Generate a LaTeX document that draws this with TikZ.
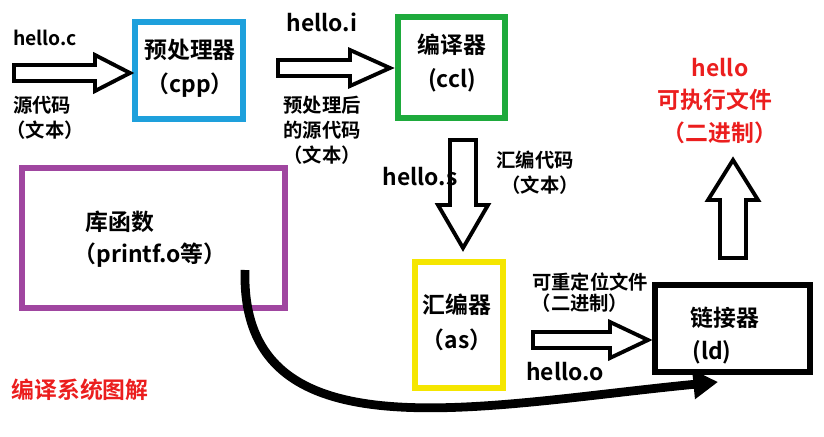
\documentclass[tikz,border=0pt]{standalone}
\usepackage{fontspec}
\setmainfont{Noto Sans CJK SC}[BoldFont={Noto Sans CJK SC Bold}]
\usetikzlibrary{arrows.meta}
\definecolor{cyanb}{RGB}{30,160,220}
\definecolor{greenb}{RGB}{30,170,60}
\definecolor{purpb}{RGB}{160,70,160}
\definecolor{yellb}{RGB}{245,230,0}
\definecolor{redt}{RGB}{235,30,30}
\tikzset{
 box/.style={draw, line width=3pt, inner sep=0pt},
 blk/.style={draw=black, line width=2.2pt, fill=white, line join=miter},
 lbl/.style={font=\bfseries\fontsize{11}{12}\selectfont, inner sep=0pt},
 big/.style={font=\bfseries\fontsize{13}{14}\selectfont, inner sep=0pt},
 red/.style={text=redt}
}
\begin{document}
\begin{tikzpicture}[x=0.02cm,y=-0.02cm]
\useasboundingbox (0,0) rectangle (824,436);
% boxes
\draw[box,draw=cyanb] (135,22) rectangle (243,119);
\draw[box,draw=greenb] (398,17) rectangle (505,118);
\draw[box,draw=purpb] (22,168) rectangle (285,308);
\draw[box,draw=yellb] (415,262) rectangle (503,388);
\draw[box,draw=black] (655,285) rectangle (810,372);
\node[big] (pp1) at (190,50) {预处理器};
\node[big] (pp2) at (190,85) {（cpp）};
\node[big] (cc1) at (452,45) {编译器};
\node[big] (cc2) at (452,80) {(ccl)};
\node[big] (lb1) at (120,222) {库函数};
\node[big] (lb2) at (150,255) {（printf.o等）};
\node[big] (as1) at (457,305) {汇编器};
\node[big] (as2) at (457,340) {（as）};
\node[big] (ld1) at (725,318) {链接器};
\node[big] (ld2) at (712,352) {(ld)};
% block arrows
\draw[blk] (14,65)--(95,65)--(95,55)--(130,73)--(95,91)--(95,81)--(14,81)--cycle;
\draw[blk] (278,60)--(350,60)--(350,50)--(390,68)--(350,86)--(350,76)--(278,76)--cycle;
\draw[blk] (450,140)--(450,205)--(438,205)--(463,248)--(488,205)--(476,205)--(476,140)--cycle;
\draw[blk] (533,332)--(610,332)--(610,322)--(648,340)--(610,358)--(610,348)--(533,348)--cycle;
\draw[blk] (720,258)--(720,200)--(708,200)--(733,160)--(758,200)--(746,200)--(746,258)--cycle;
% curved arrow
\coordinate (cs) at (245,270);
\coordinate (ce) at (718,382);
\draw[line width=5pt,-{Triangle[length=14pt,width=16pt]}] (cs) .. controls (240,460) and (480,405) .. (ce);
% labels
\node[lbl] (t1) at (45,38) {hello.c};
\node[lbl] (t2) at (42,105) {源代码};
\node[lbl] (t3) at (45,130) {（文本）};
\node[big] (t4) at (322,22) {hello.i};
\node[lbl] (t5) at (322,105) {预处理后};
\node[lbl] (t6) at (322,130) {的源代码};
\node[lbl] (t7) at (322,155) {（文本）};
\node[big] (t8) at (420,177) {hello.s};
\node[lbl] (t9) at (535,160) {汇编代码};
\node[lbl] (t10) at (540,185) {（文本）};
\node[lbl] (t11) at (590,282) {可重定位文件};
\node[lbl] (t12) at (580,303) {（二进制）};
\node[big] (t13) at (565,372) {hello.o};
\node[big,red] (r1) at (720,68) {hello};
\node[big,red] (r2) at (715,100) {可执行文件};
\node[big,red] (r3) at (720,133) {（二进制）};
\node[big,red] (r4) at (80,390) {编译系统图解};
\end{tikzpicture}
\end{document}
